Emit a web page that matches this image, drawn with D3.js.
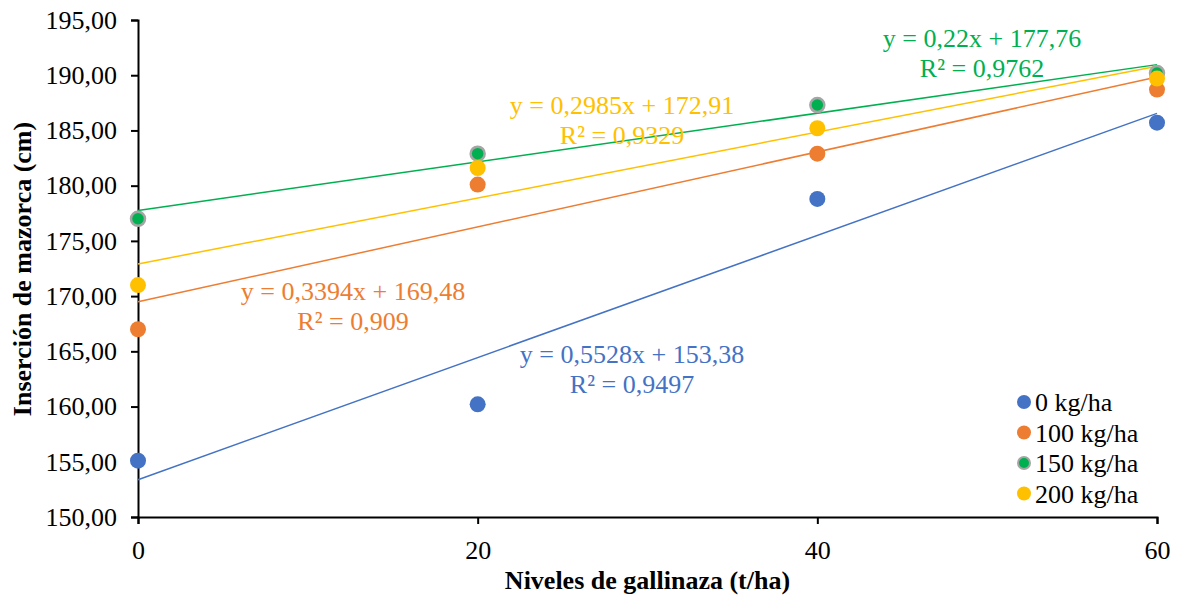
<!DOCTYPE html>
<html>
<head>
<meta charset="utf-8">
<script src="https://cdn.jsdelivr.net/npm/d3@7"></script>
<style>
  body { margin: 0; background: #fff; }
  svg text { font-family: "Liberation Serif", "Times New Roman", serif; }
</style>
</head>
<body>
<svg id="chart" width="1182" height="596"></svg>
<script>
// x levels (t/ha)
const levels = [0, 20, 40, 60]
const yTicks = [150, 155, 160, 165, 170, 175, 180, 185, 190, 195]

// series values
const names = ['0 kg/ha', '100 kg/ha', '150 kg/ha', '200 kg/ha']
const colors = ['#4472C4', '#ED7D31', '#00B050', '#FFC000']
const kg0 = [155.1, 160.2, 178.8, 185.7]
const kg100 = [167.0, 180.1, 182.9, 188.7]
const kg150 = [177.0, 182.9, 187.3, 190.2]
const kg200 = [171.0, 181.6, 185.2, 189.7]

// trendline coefficients as printed on the chart
const slopes = [0.5528, 0.3394, 0.22, 0.2985]
const intercepts = [153.38, 169.48, 177.76, 172.91]
const eqLabels = ['y = 0,5528x + 153,38', 'y = 0,3394x + 169,48', 'y = 0,22x + 177,76', 'y = 0,2985x + 172,91']
const r2Labels = ['R² = 0,9497', 'R² = 0,909', 'R² = 0,9762', 'R² = 0,9329']

const series = [kg0, kg100, kg150, kg200].map((vals, i) => ({
    name: names[i], color: colors[i], values: vals,
    slope: slopes[i], intercept: intercepts[i], eq: eqLabels[i], r2: r2Labels[i]
}))

const svg = d3.select('#chart')
const margin = { left: 138, right: 25, top: 20, bottom: 79 }
const W = 1182, H = 596

const x = d3.scaleLinear().domain([0, 60]).range([margin.left, W - margin.right])
const y = d3.scaleLinear().domain([150, 195]).range([H - margin.bottom, margin.top])

const fmt = d => d.toFixed(2).replace('.', ',')

// axes
const yAxis = svg.append('g')
    .attr('transform', `translate(${margin.left},0)`)
    .call(d3.axisLeft(y).tickValues(yTicks).tickFormat(fmt).tickSize(7).tickPadding(14))
yAxis.select('.domain').attr('stroke', '#000').attr('stroke-width', 2)
yAxis.selectAll('.tick line').attr('stroke', '#000').attr('stroke-width', 2)
yAxis.selectAll('.tick text').attr('font-size', 26).attr('fill', '#000')

const xAxis = svg.append('g')
    .attr('transform', `translate(0,${H - margin.bottom})`)
    .call(d3.axisBottom(x).tickValues(levels).tickFormat(d => d).tickSize(7).tickPadding(17))
xAxis.select('.domain').attr('stroke', '#000').attr('stroke-width', 2)
xAxis.selectAll('.tick line').attr('stroke', '#000').attr('stroke-width', 2)
xAxis.selectAll('.tick text').attr('font-size', 26).attr('fill', '#000')

// axis titles
svg.append('text')
    .attr('x', (margin.left + W - margin.right) / 2)
    .attr('y', 589)
    .attr('text-anchor', 'middle')
    .attr('font-size', 26).attr('font-weight', 'bold')
    .text('Niveles de gallinaza (t/ha)')

svg.append('text')
    .attr('transform', `translate(31,269) rotate(-90)`)
    .attr('text-anchor', 'middle')
    .attr('font-size', 26).attr('font-weight', 'bold')
    .text('Inserción de mazorca (cm)')

// trendlines
const line = d3.line().x(d => x(d[0])).y(d => y(d[1]))
svg.append('g').selectAll('path')
    .data(series)
    .enter()
    .append('path')
    .attr('d', s => line([[0, s.intercept], [60, s.intercept + s.slope * 60]]))
    .attr('fill', 'none')
    .attr('stroke', s => s.color)
    .attr('stroke-width', 1.5)

// points
series.forEach(s => {
    svg.append('g').selectAll('circle')
        .data(s.values)
        .enter()
        .append('circle')
        .attr('cx', (d, i) => x(levels[i]))
        .attr('cy', d => y(d))
        .attr('r', s.name == '150 kg/ha' ? 7 : 8)
        .attr('fill', s.color)
        .attr('stroke', s.name == '150 kg/ha' ? '#A5A5A5' : 'none')
        .attr('stroke-width', 2.5)
})

// equation labels
const labelPos = [[632, 363], [353, 300], [982, 47], [622, 114]]
series.forEach((s, i) => {
    const t = svg.append('text')
        .attr('text-anchor', 'middle')
        .attr('font-size', 26)
        .attr('fill', s.color)
    t.append('tspan').attr('x', labelPos[i][0]).attr('y', labelPos[i][1]).text(s.eq)
    t.append('tspan').attr('x', labelPos[i][0]).attr('y', labelPos[i][1] + 29.5).text(s.r2)
})

// legend
const legend = svg.append('g').attr('transform', 'translate(1024,402)')
const items = legend.selectAll('g')
    .data(series)
    .enter()
    .append('g')
    .attr('transform', (d, i) => `translate(0,${i * 30.5})`)
items.append('circle')
    .attr('r', d => d.name == '150 kg/ha' ? 6 : 7)
    .attr('fill', d => d.color)
    .attr('stroke', d => d.name == '150 kg/ha' ? '#A5A5A5' : 'none')
    .attr('stroke-width', 2)
items.append('text')
    .attr('x', 11)
    .attr('y', 9)
    .attr('font-size', 26)
    .text(d => d.name)
</script>
</body>
</html>
